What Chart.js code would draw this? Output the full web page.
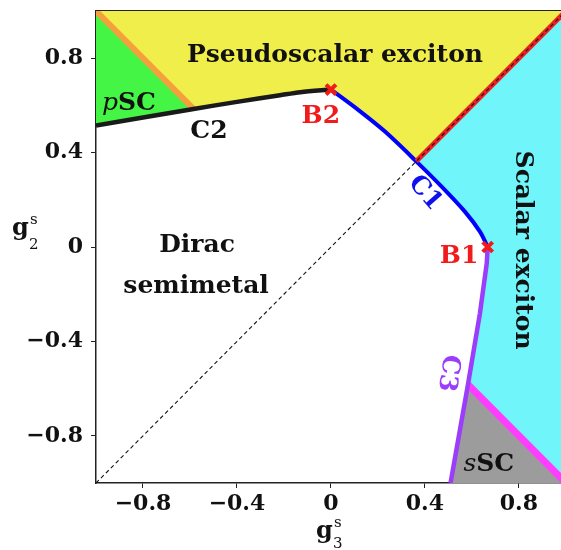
<!DOCTYPE html>
<html>
<head>
<meta charset="utf-8">
<script src="https://cdn.jsdelivr.net/npm/chart.js@4.4.1/dist/chart.umd.min.js"></script>
<style>
  body { margin: 0; background: #fff; }
</style>
</head>
<body>
<canvas id="phase" width="561" height="550"></canvas>
<script>
// Phase boundaries in the (g3, g2) plane
const c2X = [-1, -0.8, -0.585, -0.4, -0.217, -0.13, 0];
const c2Y = [0.515, 0.549, 0.585, 0.615, 0.643, 0.656, 0.667];

const c1X = [0, 0.116, 0.23, 0.363, 0.471, 0.57, 0.634, 0.667];
const c1Y = [0.667, 0.581, 0.489, 0.363, 0.256, 0.15, 0.065, 0];

const c3X = [0.667, 0.663, 0.634, 0.583, 0.509];
const c3Y = [0, -0.069, -0.281, -0.583, -1];

const orangeX = [-1, -0.585];
const orangeY = [1, 0.585];
const redX = [0.363, 1];
const redY = [0.363, 1];
const magentaX = [0.583, 1];
const magentaY = [-0.583, -1];
const diagX = [-1, 1];
const diagY = [-1, 1];

// bicritical points B2, B1
const markX = [0, 0.667];
const markY = [0.667, 0];

const limits = [-1, 1];
const xTicks = [-0.8, -0.4, 0, 0.4, 0.8];
const yTicks = [-0.8, -0.4, 0, 0.4, 0.8];

const pts = (xs, ys) => xs.map((x, i) => ({ x: x, y: ys[i] }));
const rev = (a) => a.slice().reverse();

const c2 = pts(c2X, c2Y);
const c1 = pts(c1X, c1Y);
const c3 = pts(c3X, c3Y);
const lo = limits[0], hi = limits[1];

const greenZone = [{ x: lo, y: hi }].concat(rev(c2.slice(0, 3)));
const yellowZone = [{ x: lo, y: hi }, { x: hi, y: hi }].concat(rev(c1.slice(0, 4)), rev(c2.slice(2)));
const cyanZone = [{ x: hi, y: hi }, { x: hi, y: lo }].concat(rev(c3.slice(0, 4)), rev(c1.slice(3)));
const grayZone = c3.slice(3).concat([{ x: hi, y: lo }]);

function zone(data, color) {
  return { data: data, showLine: true, fill: 'shape', backgroundColor: color,
    borderColor: 'transparent', borderWidth: 0, pointRadius: 0, order: 3 };
}
function curve(data, color, width, extra) {
  return Object.assign({ data: data, showLine: true, fill: false, borderColor: color,
    borderWidth: width, pointRadius: 0, order: 2 }, extra || {});
}

const SERIF = '"DejaVu Serif", serif';
const bold = 'bold 25px ' + SERIF;
const ital = 'italic 25px ' + SERIF;

const labels = [
  { parts: [['Pseudoscalar exciton', bold]], x: 0.017, y: 0.784, color: '#111' },
  { parts: [['p', ital], ['SC', bold]], x: -0.86, y: 0.581, color: '#111' },
  { parts: [['C2', bold]], x: -0.519, y: 0.462, color: '#111' },
  { parts: [['B2', bold]], x: -0.043, y: 0.525, color: '#f21b1b' },
  { parts: [['C1', bold]], x: 0.4, y: 0.229, color: '#1010ee', rot: 49 },
  { parts: [['B1', bold]], x: 0.545, y: -0.068, color: '#f21b1b' },
  { parts: [['Scalar exciton', bold]], x: 0.817, y: -0.013, color: '#111', rot: 90 },
  { parts: [['C3', bold]], x: 0.498, y: -0.534, color: '#9b3dfb', rot: 98 },
  { parts: [['s', ital], ['SC', bold]], x: 0.672, y: -0.949, color: '#111' },
  { parts: [['Dirac', bold]], x: -0.57, y: -0.02, color: '#111' },
  { parts: [['semimetal', bold]], x: -0.574, y: -0.196, color: '#111' }
];

const labelPlugin = {
  id: 'phaseLabels',
  afterDatasetsDraw(chart) {
    const ctx = chart.ctx;
    const sx = chart.scales.x, sy = chart.scales.y;
    labels.forEach((lab) => {
      ctx.save();
      ctx.fillStyle = lab.color;
      ctx.translate(sx.getPixelForValue(lab.x), sy.getPixelForValue(lab.y));
      if (lab.rot) {
        ctx.rotate(lab.rot * Math.PI / 180);
        ctx.textBaseline = 'middle';
      } else {
        ctx.textBaseline = 'alphabetic';
      }
      let total = 0;
      lab.parts.forEach((p) => { ctx.font = p[1]; total += ctx.measureText(p[0]).width; });
      let left = -total / 2;
      ctx.textAlign = 'left';
      lab.parts.forEach((p) => {
        ctx.font = p[1];
        ctx.fillText(p[0], left, 0);
        left += ctx.measureText(p[0]).width;
      });
      ctx.restore();
    });
  }
};

// g^s_3 and g^s_2 axis titles
const titlePlugin = {
  id: 'axisTitles',
  afterDraw(chart) {
    const ctx = chart.ctx;
    const x0 = chart.scales.x.getPixelForValue(0);
    ctx.save();
    ctx.fillStyle = '#111';
    ctx.textAlign = 'left';
    ctx.textBaseline = 'alphabetic';
    ctx.font = 'bold 24px ' + SERIF;
    ctx.fillText('g', x0 - 15, 538);
    ctx.fillText('g', 12, 235);
    ctx.font = '15px ' + SERIF;
    ctx.fillText('s', x0 + 3, 527);
    ctx.fillText('3', x0 + 2, 548);
    ctx.fillText('s', 30, 224);
    ctx.fillText('2', 29, 249);
    ctx.restore();
  }
};

const tickFont = { family: SERIF, size: 22, weight: 'bold' };
const fmt = (v) => (v < 0 ? '\u2212' + Math.abs(v) : String(v));
const noPad = (s) => { s.paddingTop = 0; s.paddingBottom = 0; s.paddingLeft = 0; s.paddingRight = 0; };

new Chart(document.getElementById('phase'), {
  type: 'scatter',
  data: {
    datasets: [
      { data: pts(markX, markY), pointStyle: 'crossRot', pointRadius: 7,
        pointBorderWidth: 4, pointBorderColor: '#f21b1b', order: 0 },
      curve(pts(diagX, diagY), '#111', 1.1, { borderDash: [4, 3], order: 1 }),
      curve(pts(redX, redY), '#ee2020', 5),
      curve(c1, '#0000ff', 4, { tension: 0.3 }),
      curve(c2, '#1a1a1a', 4.5, { tension: 0.3 }),
      curve(c3, '#9b3dfb', 4.5),
      curve(pts(orangeX, orangeY), '#f5a03c', 6),
      curve(pts(magentaX, magentaY), '#ff3cff', 7),
      zone(greenZone, '#45f545'),
      zone(yellowZone, '#f0ee4a'),
      zone(cyanZone, '#70f5fb'),
      zone(grayZone, '#9c9c9c')
    ]
  },
  options: {
    responsive: false,
    animation: false,
    events: [],
    layout: { padding: 0, autoPadding: false },
    plugins: { legend: { display: false }, tooltip: { enabled: false } },
    scales: {
      x: {
        type: 'linear', min: -1, max: 0.979,
        afterBuildTicks: (s) => { s.ticks = xTicks.map((v) => ({ value: v })); },
        afterFit: (s) => { s.height = 67; noPad(s); },
        ticks: { font: tickFont, color: '#111', padding: 3, callback: fmt, maxRotation: 0 },
        grid: { drawOnChartArea: false, tickLength: 5, tickColor: '#222' },
        border: { color: '#222', width: 1.5 }
      },
      xTop: {
        type: 'linear', position: 'top', min: -1, max: 0.979,
        afterFit: (s) => { s.height = 11; noPad(s); },
        ticks: { display: false },
        grid: { display: false },
        border: { color: '#222', width: 1.5 }
      },
      y: {
        type: 'linear', min: -1, max: 1,
        afterBuildTicks: (s) => { s.ticks = yTicks.map((v) => ({ value: v })); },
        afterFit: (s) => { s.width = 96; noPad(s); },
        ticks: { font: tickFont, color: '#111', padding: 8, callback: fmt },
        grid: { drawOnChartArea: false, tickLength: 5, tickColor: '#222' },
        border: { color: '#222', width: 1.5 }
      }
    }
  },
  plugins: [labelPlugin, titlePlugin]
});
</script>
</body>
</html>
